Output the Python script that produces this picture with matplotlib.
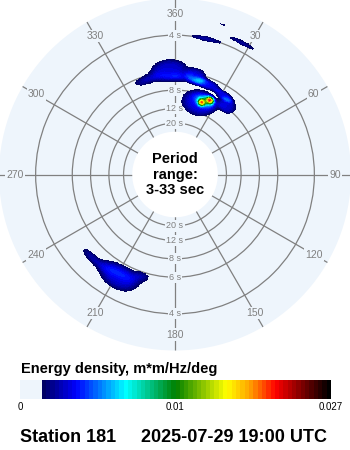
import numpy as np
import matplotlib

matplotlib.use("Agg")
import matplotlib.pyplot as plt
from matplotlib.cm import ScalarMappable
from matplotlib.colors import LinearSegmentedColormap, TwoSlopeNorm

plt.rcParams["font.family"] = ["Liberation Sans", "DejaVu Sans"]

BG = "#eef5fc"
GRID = "#808080"

# directional wave spectrum, described as a set of spectral peaks:
# direction (deg, clockwise from north), frequency (Hz), energy density,
# spreads in direction / frequency and a peak-shape exponent (2 = gaussian, 4 = flat top)
comp_dir = [-3, 8, 12, 20, 32, -17, 18, 37, 23, 20.3, 25.2, 13, 27, 17.5, 209, 198, 225, 210]
comp_freq = [0.1716, 0.1534, 0.1625, 0.1511, 0.1445, 0.1580, 0.1034, 0.1295, 0.1148, 0.1080,
             0.1200, 0.2500, 0.2693, 0.2909, 0.1989, 0.1761, 0.2011, 0.1920]
comp_energy = [0.0030, 0.0022, 0.0028, 0.0028, 0.0030, 0.0025, 0.0032, 0.0030, 0.0040, 0.0140,
               0.0160, 0.0024, 0.0023, 0.0016, 0.0030, 0.0022, 0.0023, 0.0010]
comp_dir_spread = [9, 9, 5, 7, 5.5, 6, 11.5, 5.5, 5.5, 1.8, 1.8, 6, 5, 2.5, 9, 3.5, 5.5, 9]
comp_freq_spread = [0.0216, 0.0080, 0.0160, 0.0091, 0.0080, 0.0091, 0.0250, 0.0148, 0.0100, 0.0050,
                    0.0050, 0.0050, 0.0045, 0.0023, 0.0250, 0.0091, 0.0080, 0.0091]
comp_shape = [4, 2, 4, 4, 4, 2, 4, 4, 2, 2, 2, 2, 2, 2, 4, 2, 2, 2]

ring_periods = [4, 6, 8, 12, 20]
dir_ticks = [0, 30, 60, 90, 120, 150, 180, 210, 240, 270, 300, 330]
dir_labels = ["360", "30", "60", "90", "120", "150", "180", "210", "240", "270", "300", "330"]
period_min, period_max = 3, 33

cbar_ticks = [0, 0.01, 0.027]
cbar_labels = ["0", "0.01", "0.027"]
station = "Station 181"
stamp = "2025-07-29 19:00 UTC"

# colour scale: background below the first level, then navy -> black
cmap_nodes = [
    (0.0, BG), (0.0675, BG), (0.068, "#000060"), (0.177, "#0000ff"),
    (0.338, "#00ffff"), (0.5, "#008000"), (0.666, "#ffff00"),
    (0.74, "#ffa500"), (0.826, "#ff0000"), (0.91, "#800000"), (1.0, "#000000"),
]
cmap = LinearSegmentedColormap.from_list("energy", cmap_nodes, N=72)
norm = TwoSlopeNorm(vmin=cbar_ticks[0], vcenter=cbar_ticks[1], vmax=cbar_ticks[2])
threshold = norm.inverse(5 / 72)

f_lo, f_hi = 1 / period_max, 1 / period_min
theta_edges = np.linspace(0, 360, 721)
f_edges = np.linspace(f_lo, f_hi, 301)
th_c = 0.5 * (theta_edges[:-1] + theta_edges[1:])
f_c = 0.5 * (f_edges[:-1] + f_edges[1:])
TH, FF = np.meshgrid(th_c, f_c)

energy = np.zeros_like(TH)
for d, f, e, sd, sf, k in zip(comp_dir, comp_freq, comp_energy,
                              comp_dir_spread, comp_freq_spread, comp_shape):
    dd = (TH - d + 180) % 360 - 180
    q2 = (dd / sd) ** 2 + ((FF - f) / sf) ** 2
    energy += e * np.exp(-0.5 * q2 ** (k / 2))
energy = np.ma.masked_less(energy, threshold)

fig = plt.figure(figsize=(3.5, 4.5), dpi=100)
ax = fig.add_axes([-1 / 350, 99.5 / 450, 352 / 350, 352 / 450], projection="polar")
ax.set_facecolor(BG)
ax.set_theta_zero_location("N")
ax.set_theta_direction(-1)
ax.set_ylim(f_lo, f_hi)
ax.set_rorigin(-0.067)
ax.set_axisbelow(True)
# polar axes re-enables the inner spine on draw, so blank it instead of hiding it
for sp in ax.spines.values():
    sp.set_color("none")
    sp.set_linewidth(0)

ax.set_thetagrids(dir_ticks, labels=[])
ax.set_rgrids([1 / p for p in ring_periods], labels=[])
ax.grid(True, color=GRID, linewidth=0.9)
ax.tick_params(length=0)

ax.pcolormesh(np.deg2rad(theta_edges), f_edges, energy, cmap=cmap, norm=norm,
              shading="flat", antialiased=False, linewidth=0, zorder=1)

box = dict(boxstyle="square,pad=0.12", fc=BG, ec="none")
for d, lab in zip(dir_ticks, dir_labels):
    ax.text(np.deg2rad(d), 0.297, lab, ha="center", va="center", fontsize=7.5,
            color=GRID, bbox=box, zorder=0.8)
for p in ring_periods:
    for d in (0, 180):
        ax.text(np.deg2rad(d), 1 / p, f"{p} s", ha="center", va="center", fontsize=6.5,
                color=GRID, bbox=box, zorder=0.8)

ax.text(0.5, 0.5, f"Period\nrange:\n{period_min}-{period_max} sec", transform=ax.transAxes,
        ha="center", va="center", fontsize=10.5, fontweight="bold", linespacing=1.15)

cax = fig.add_axes([20 / 350, 51 / 450, 311 / 350, 19 / 450])
cb = fig.colorbar(ScalarMappable(norm=norm, cmap=cmap), cax=cax, orientation="horizontal")
cb.set_ticks(cbar_ticks, labels=cbar_labels)
cb.outline.set_visible(False)
cax.tick_params(length=0, labelsize=7, pad=2)

fig.text(21 / 350, 1 - 369 / 450, "Energy density, m*m/Hz/deg", ha="left", va="center",
         fontsize=10.5, fontweight="bold")
fig.text(20 / 350, 1 - 438 / 450, station, ha="left", va="center", fontsize=13, fontweight="bold")
fig.text(327 / 350, 1 - 438 / 450, stamp, ha="right", va="center", fontsize=13, fontweight="bold")

fig.savefig("out.png", dpi=100)
